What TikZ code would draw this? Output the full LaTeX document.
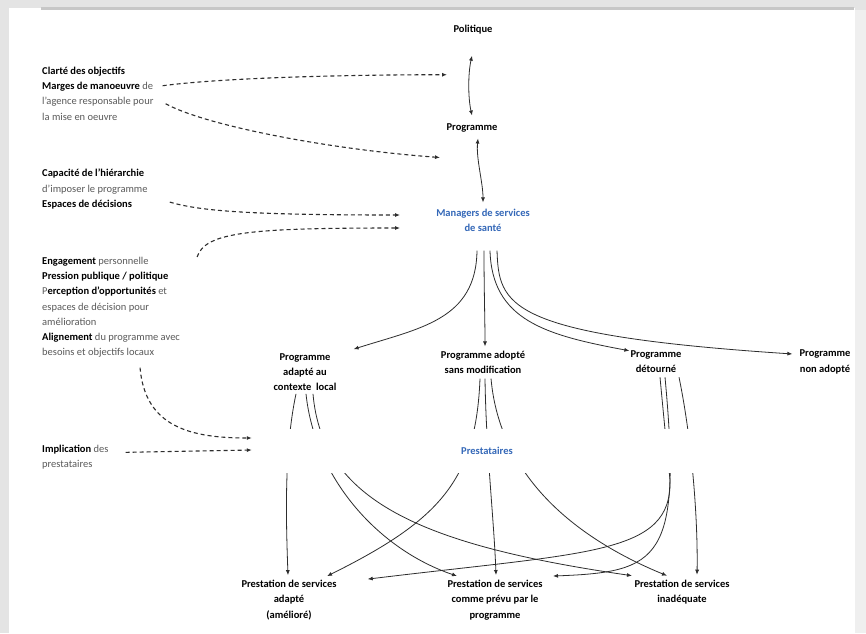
\documentclass[tikz,border=0pt]{standalone}
\usepackage{fontspec}
\setmainfont{Carlito}
\usetikzlibrary{arrows.meta,calc}
\definecolor{mgrblue}{RGB}{52,104,184}
\definecolor{linegray}{RGB}{45,45,45}
\definecolor{softgray}{RGB}{90,90,90}
\definecolor{pagegray}{RGB}{228,228,228}
\newcommand{\figfont}{\fontsize{10.5}{15.2}\selectfont}
\newcommand{\keyw}[1]{\textcolor{black}{\textbf{#1}}}
\tikzstyle{title label}=[
    font = \figfont\bfseries,
    align = center,
    inner sep = 1pt
]
\tikzstyle{blue label}=[
    title label,
    text = mgrblue
]
\tikzstyle{side text}=[
    font = \figfont,
    align = left,
    anchor = north west,
    inner sep = 0pt,
    text = softgray
]

\begin{document}
\begin{tikzpicture}[x=1pt, y=-1pt,
    link/.style = {draw=linegray, line width=0.8pt, -{Latex[length=5pt,width=4pt]}},
    both/.style = {link, {Latex[length=5pt,width=4pt]}-{Latex[length=5pt,width=4pt]}},
    hint/.style = {link, line width=1.1pt, dash pattern=on 4pt off 3pt}]
        % page
        \fill[pagegray] (0,0) rectangle (866,633);
        \fill[white] (9,8) rectangle (855,633);
        \fill[black!22] (41,7) rectangle (854,9.5);
        \useasboundingbox (0,0) rectangle (866,633);

        % main chain
        \node[title label] (pol) at (473,30) {Politique};
        \node[title label] (prog) at (472,128) {Programme};
        \node[blue label] (mgr) at (483,220) {Managers de services\\de santé};

        % factors on the left
        \node[side text] (clarte) at (42,67) {\keyw{Clarté des objectifs}\\\keyw{Marges de manoeuvre} de\\l’agence responsable pour\\la mise en oeuvre};
        \node[side text] (capac) at (42,169) {\keyw{Capacité de l’hiérarchie}\\d’imposer le programme\\\keyw{Espaces de décisions}};
        \node[side text] (engag) at (42,257) {\keyw{Engagement} personnelle\\\keyw{Pression publique / politique}\\P\keyw{erception d’opportunités} et\\espaces de décision pour\\amélioration\\\keyw{Alignement} du programme avec\\besoins et objectifs locaux};
        \node[side text] (impl) at (42,445) {\keyw{Implication} des\\prestataires};

        % programme outcomes
        \node[title label] (adapt) at (305,372) {Programme\\adapté au\\contexte\ \ local};
        \node[title label] (sansmod) at (483,362) {Programme adopté\\sans modification};
        \node[title label] (detour) at (656,362) {Programme\\détourné};
        \node[title label] (nonad) at (825,362) {Programme\\non adopté};

        % service outcomes
        \node[title label] (padapt) at (289,600) {Prestation de services\\adapté\\(amélioré)};
        \node[title label] (pprevu) at (495,600) {Prestation de services\\comme prévu par le\\programme};
        \node[title label] (pinad) at (682,592) {Prestation de services\\inadéquate};

        \draw[both] ($(pol.south)+(-1,20)$) .. controls +(-4,18) and +(-4,-18) .. ($(prog.north)+(0,-7)$);
        \draw[both] ($(prog.south)+(6,5)$) .. controls +(-2,20) and +(0,-20) .. ($(mgr.north)+(0,-5)$);

        \draw[link] ($(mgr.south)+(-6,18)$) .. controls (476,320) and (420,328) .. ($(adapt.north east)+(16,-3)$);
        \draw[link] ($(mgr.south)+(1,18)$) .. controls (484,290) and (485,320) .. ($(sansmod.north)+(2,-3)$);
        \draw[link] ($(mgr.south)+(7,18)$) .. controls (492,320) and (545,335) .. ($(detour.north west)+(0,1)$);
        \draw[link] ($(mgr.south)+(14,18)$) .. controls (499,305) and (505,335) .. ($(nonad.north west)+(-6,5)$);

        % from programmes to services
        \draw[link] ($(adapt.south)+(-9,2)$) .. controls (284,450) and (286,520) .. ($(padapt.north)+(-1,-4)$);
        \draw[link] ($(adapt.south)+(1,2)$) .. controls (315,480) and (380,550) .. ($(pprevu.north)+(-38,-3)$);
        \draw[link] ($(adapt.south)+(8,2)$) .. controls (322,500) and (420,545) .. ($(pinad.north)+(-50,-3)$);
        \draw[link] ($(sansmod.south)+(-3,4)$) .. controls (476,480) and (440,520) .. ($(padapt.north)+(38,-3)$);
        \draw[link] ($(sansmod.south)+(2,4)$) .. controls (486,450) and (494,520) .. ($(pprevu.north)+(1,-4)$);
        \draw[link] ($(sansmod.south)+(8,4)$) .. controls (500,480) and (580,540) .. ($(pinad.north)+(-15,-3)$);
        \draw[link] ($(detour.south)+(4,3)$) .. controls (665,430) .. (670,480) .. controls (672,555) and (590,552) .. ($(padapt.north east)+(30,0)$);
        \draw[link] ($(detour.south)+(9,3)$) .. controls (682,560) and (660,572) .. ($(pprevu.north)+(58,-3)$);
        \draw[link] ($(detour.south)+(23,3)$) .. controls (692,440) and (698,520) .. ($(pinad.north)+(15,-4)$);

        % providers band covers the crossing lines
        \node[blue label, fill=white, minimum width=470, minimum height=44] (prest) at (487,451) {Prestataires};

        % influences
        \draw[hint] ($(clarte.east)+(9,-8)$) .. controls +(60,-8) and +(-100,0) .. ($(pol.south)+(-26,39)$);
        \draw[hint] ($(clarte.east)+(12,10)$) .. controls +(40,22) and +(-110,-8) .. ($(prog.south)+(-32,24)$);
        \draw[hint] ($(capac.east)+(22,13)$) .. controls +(30,9) and +(-150,0) .. ($(mgr.west)+(-35,-5)$);
        \draw[hint] ($(engag.north east)+(17,0)$) .. controls +(8,-25) and +(-150,0) .. ($(mgr.west)+(-35,8)$);
        \draw[hint] ($(engag.south)+(29,10)$) .. controls +(5,60) and +(-60,0) .. ($(prest.west)+(0,-13)$);
        \draw[hint] ($(impl.east)+(17,-5)$) -- ($(prest.west)+(0,-1)$);

        % right edge of the page
        \fill[pagegray!60] (855,10) rectangle (866,633);
\end{tikzpicture}
\end{document}
